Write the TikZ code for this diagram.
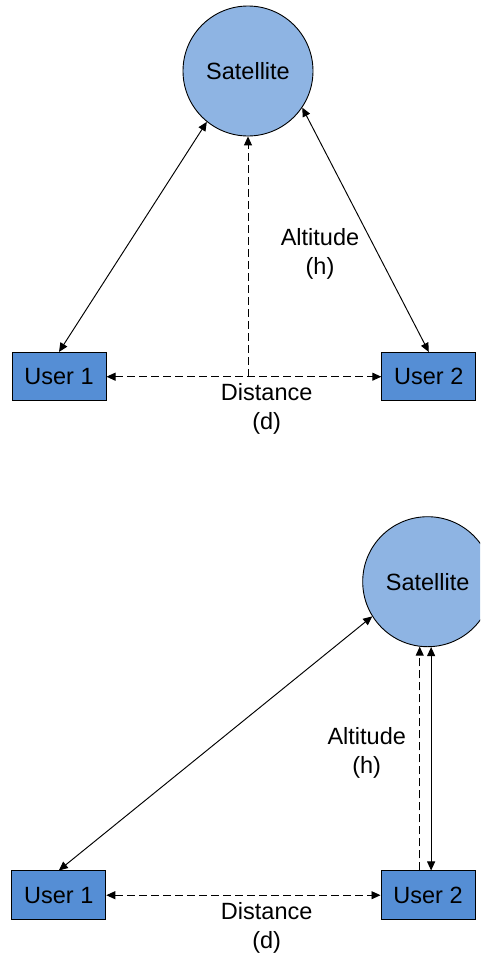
\documentclass[tikz,border=0pt]{standalone}
\usepackage{fontspec}
\setmainfont{Liberation Sans}
\usetikzlibrary{arrows.meta}
\definecolor{satfill}{HTML}{8EB4E3}
\definecolor{userfill}{HTML}{558ED5}
\begin{document}
\begin{tikzpicture}[x=1pt,y=-1pt,
  font=\fontsize{23.5}{29}\selectfont,
  sat/.style={circle, draw=black, line width=0.9pt, fill=satfill,
    minimum size=130pt, inner sep=0pt},
  user/.style={rectangle, draw=black, line width=1pt, fill=userfill,
    minimum width=94pt, minimum height=48.5pt, inner sep=0pt},
  link/.style={line width=0.95pt, {Triangle[length=9pt,width=8pt]}-{Triangle[length=9pt,width=8pt]}},
  uplink/.style={line width=0.95pt, -{Triangle[length=9pt,width=8pt]}},
  dashlink/.style={dash pattern=on 8pt off 4pt},
  lbl/.style={align=center, inner sep=0pt}
]
\clip (0,0) rectangle (480,953);

% ---------- upper scenario: satellite between the users ----------
\node[sat]  (satA) at (248,71) {Satellite};
\node[user] (u1A)  at (59,376.7) {User 1};
\node[user] (u2A)  at (428.8,376.7) {User 2};

\draw[link] (u1A.north) -- (satA.231);
\draw[link] (u2A.north) -- (satA.326);
\draw[link, dashlink] (u1A.east) -- (u2A.west);
\coordinate (footA) at (satA.south |- u1A.east);
\draw[uplink, dashlink] (footA) -- (satA.south);

\node[lbl] (altA)  at (320,254.4) {Altitude\\(h)};
\node[lbl] (distA) at (266.7,409.4) {Distance\\(d)};

% ---------- lower scenario: satellite above user 2 ----------
\node[sat]  (satB) at (427.7,581.7) {Satellite};
\node[user] (u1B)  at (58.8,895.2) {User 1};
\node[user] (u2B)  at (428,895.2) {User 2};

\draw[link] (u1B.north) -- (satB.212);
\draw[link, dashlink] (u1B.east) -- (u2B.west);
\coordinate (footB) at (satB.263 |- u2B.north);
\draw[uplink, dashlink] (footB) -- (satB.263);
\coordinate (footC) at (satB.273 |- u2B.north);
\draw[link] (satB.273) -- (footC);

\node[lbl] (altB)  at (366.7,753.4) {Altitude\\(h)};
\node[lbl] (distB) at (266.7,928.4) {Distance\\(d)};
\end{tikzpicture}
\end{document}
